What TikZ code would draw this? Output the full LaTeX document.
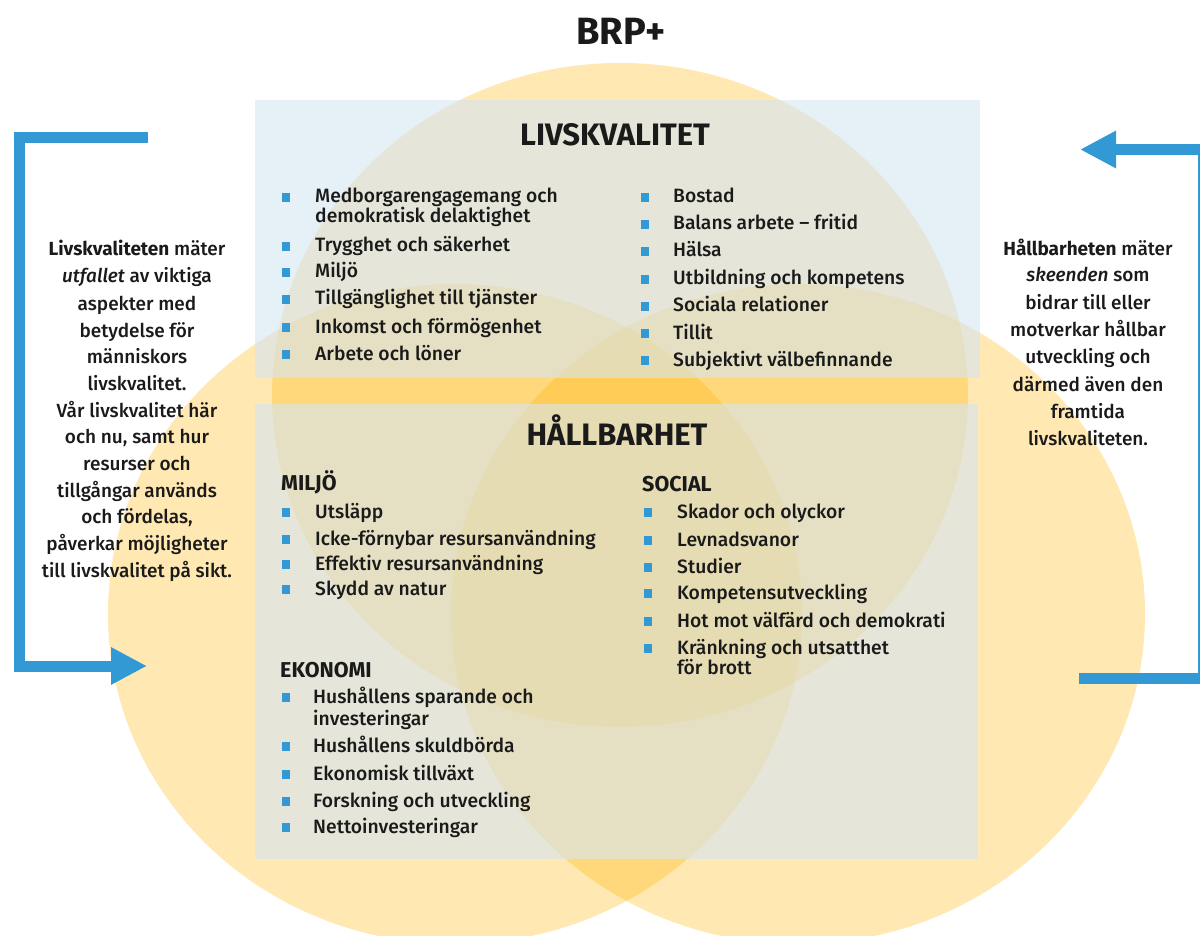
\documentclass[tikz,border=0pt]{standalone}
\usepackage{fontspec}
\setmainfont{Fira Sans Medium}[BoldFont={Fira Sans Bold}, ItalicFont={Fira Sans Medium Italic}]
\usetikzlibrary{arrows.meta}
\definecolor{cyel}{HTML}{FFB602}
\definecolor{cpanel}{HTML}{D5E6F3}
\definecolor{cblue}{HTML}{3399D5}
\definecolor{ink}{HTML}{1A1A1A}
\tikzset{
  circ/.style={fill=cyel, opacity=0.3},
  panel/.style={fill=cpanel, opacity=0.6},
  blt/.style={rectangle, fill=cblue, minimum size=8.5pt, inner sep=0pt},
  item/.style={anchor=base west, inner sep=0pt, text=ink, font=\fontsize{19.3}{22}\selectfont},
  sidetxt/.style={anchor=base, inner sep=0pt, text=ink, font=\fontsize{19}{22}\selectfont},
  head/.style={anchor=base, inner sep=0pt, text=ink, font=\fontsize{31}{33}\selectfont\bfseries},
  subhead/.style={anchor=base west, inner sep=0pt, text=ink, font=\fontsize{21.5}{24}\selectfont\bfseries},
  bline/.style={draw=cblue, line width=11pt, line join=miter},
}
\begin{document}
\begin{tikzpicture}[x=1pt,y=-1pt]
\useasboundingbox (0,0) rectangle (1200,936);
\clip (0,0) rectangle (1200,936);
\fill[white] (0,0) rectangle (1200,936);
% circles
\fill[circ] (620,395) ellipse[x radius=348pt, y radius=332pt];
\fill[circ] (455,614) ellipse[x radius=347pt, y radius=330pt];
\fill[circ] (798,614) ellipse[x radius=347pt, y radius=330pt];
% panels
\fill[panel] (255,100) rectangle (980,378);
\fill[panel] (255,404) rectangle (978,859);
% title
\node[anchor=base, inner sep=0pt, text=ink, font=\fontsize{38}{40}\selectfont\bfseries] (title) at (621,45) {BRP+};
% headings
\node[head] (hlk) at (615,146) {LIVSKVALITET};
\node[head] (hhb) at (617,445) {HÅLLBARHET};
% Livskvalitet left column
\foreach \y/\t [count=\i] in {203/Medborgarengagemang och, 252/Trygghet och säkerhet, 278/Miljö, 305/Tillgänglighet till tjänster, 333/Inkomst och förmögenhet, 360/Arbete och löner}
  { \node[blt] (lkab\i) at (286,\y-5.5) {}; \node[item] (lkat\i) at (315,\y) {\t}; }
\node[item] (lkat1b) at (315,223) {demokratisk delaktighet};
% Livskvalitet right column
\foreach \y/\t [count=\i] in {203/Bostad, 230/Balans arbete – fritid, 257/Hälsa, 285/Utbildning och kompetens, 312/Sociala relationer, 339/Tillit, 366/Subjektivt välbefinnande}
  { \node[blt] (lkbb\i) at (645,\y-5.5) {}; \node[item] (lkbt\i) at (673,\y) {\t}; }
% Miljö
\node[subhead] (hmi) at (281,490) {MILJÖ};
\foreach \y/\t [count=\i] in {518/Utsläpp, 545/Icke-förnybar resursanvändning, 570/Effektiv resursanvändning, 595/Skydd av natur}
  { \node[blt] (mib\i) at (286,\y-5.5) {}; \node[item] (mit\i) at (315,\y) {\t}; }
% Social
\node[subhead] (hso) at (642,491) {SOCIAL};
\foreach \y/\t [count=\i] in {518/Skador och olyckor, 546/Levnadsvanor, 573/Studier, 599/Kompetensutveckling, 627/Hot mot välfärd och demokrati, 654/Kränkning och utsatthet}
  { \node[blt] (sob\i) at (648,\y-5.5) {}; \node[item] (sot\i) at (677,\y) {\t}; }
\node[item] (sot6b) at (677,674) {för brott};
% Ekonomi
\node[subhead] (hek) at (280,677) {EKONOMI};
\foreach \y/\t [count=\i] in {703/Hushållens sparande och, 752/Hushållens skuldbörda, 780/Ekonomisk tillväxt, 807/Forskning och utveckling, 833/Nettoinvesteringar}
  { \node[blt] (ekb\i) at (286,\y-5.5) {}; \node[item] (ekt\i) at (313,\y) {\t}; }
\node[item] (ekt1b) at (313,725) {investeringar};
% left side text
\foreach \y/\t [count=\i] in {255/{\textbf{Livskvaliteten} mäter}, 283/{\textit{utfallet} av viktiga}, 310/aspekter med, 337/betydelse för, 363/människors, 390/livskvalitet., 417/Vår livskvalitet här, 443/{och nu, samt hur}, 470/resurser och, 497/tillgångar används, 523/{och fördelas,}, 550/påverkar möjligheter, 577/till livskvalitet på sikt.}
  { \node[sidetxt] (lt\i) at (137,\y) {\t}; }
% right side text
\foreach \y/\t [count=\i] in {255/{\textbf{Hållbarheten} mäter}, 282/{\textit{skeenden} som}, 309/bidrar till eller, 336/motverkar hållbar, 363/utveckling och, 391/därmed även den, 418/framtida, 445/livskvaliteten.}
  { \node[sidetxt] (rt\i) at (1088,\y) {\t}; }
% arrows
\coordinate (la1) at (148,137.5);
\coordinate (la2) at (19.5,137.5);
\coordinate (la3) at (19.5,666);
\coordinate (la4) at (147,666);
\draw[bline, -{Triangle[length=36pt,width=35pt]}] (la1) -- (la2) -- (la3) -- (la4);
\coordinate (ra1) at (1079,678);
\coordinate (ra2) at (1203,678);
\coordinate (ra3) at (1203,149.5);
\coordinate (ra4) at (1080,149.5);
\draw[bline, -{Triangle[length=36pt,width=35pt]}] (ra1) -- (ra2) -- (ra3) -- (ra4);
\end{tikzpicture}
\end{document}
